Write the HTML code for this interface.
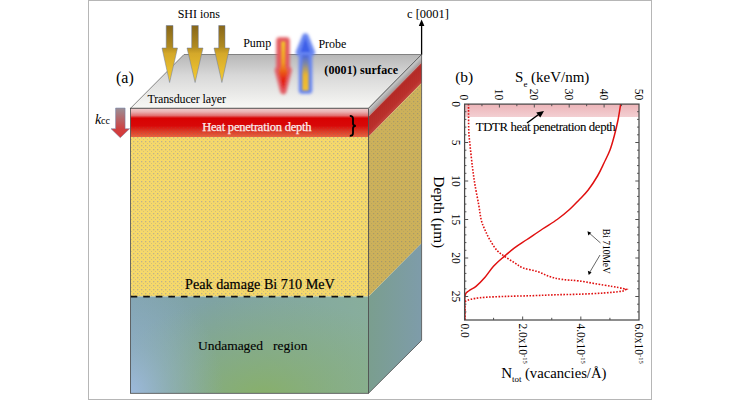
<!DOCTYPE html>
<html><head><meta charset="utf-8">
<style>
html,body{margin:0;padding:0;background:#fff;}
svg{display:block;}
text{font-family:"Liberation Serif",serif;}
.hv{stroke:#000;stroke-width:0.2px;}
.nos text, text.nos{stroke:none;}
</style></head>
<body>
<svg width="740" height="400" viewBox="0 0 740 400">
<defs>
  <linearGradient id="gTop" x1="0" y1="54" x2="0" y2="108" gradientUnits="userSpaceOnUse">
    <stop offset="0" stop-color="#b6b6b6"/>
    <stop offset="0.4" stop-color="#d8d8d8"/>
    <stop offset="1" stop-color="#f8f8f5"/>
  </linearGradient>
  <linearGradient id="gRed" x1="0" y1="108.5" x2="0" y2="137" gradientUnits="userSpaceOnUse">
    <stop offset="0" stop-color="#f0cccc"/>
    <stop offset="0.12" stop-color="#eab0b0"/>
    <stop offset="0.25" stop-color="#e27070"/>
    <stop offset="0.31" stop-color="#dc2020"/>
    <stop offset="0.35" stop-color="#d80202"/>
    <stop offset="0.6" stop-color="#d80808"/>
    <stop offset="0.8" stop-color="#dc3a26"/>
    <stop offset="1" stop-color="#e86440"/>
  </linearGradient>
  <pattern id="pDots" x="0" y="0" width="4" height="4" patternUnits="userSpaceOnUse">
    <rect width="4" height="4" fill="#f6d96a"/>
    <rect x="1" y="1" width="1.3" height="1.3" fill="#bfb38a"/>
    <rect x="3" y="3" width="1.2" height="1.2" fill="#d2c07a"/>
  </pattern>
  <pattern id="pDotsRed" x="0" y="0" width="4" height="4" patternUnits="userSpaceOnUse">
    <rect x="1" y="1" width="1.3" height="1.3" fill="#806060"/>
    <rect x="3" y="3" width="1.2" height="1.2" fill="#906060"/>
  </pattern>
  <pattern id="pDotsSide" x="0" y="0" width="4" height="4" patternUnits="userSpaceOnUse">
    <rect width="4" height="4" fill="#cdb15a"/>
    <rect x="1" y="1" width="1.2" height="1.2" fill="#a89a68"/>
    <rect x="3" y="3" width="1.2" height="1.2" fill="#b8a660"/>
  </pattern>
  <linearGradient id="gUnd" x1="130" y1="0" x2="368" y2="0" gradientUnits="userSpaceOnUse">
    <stop offset="0" stop-color="#82a4b2"/>
    <stop offset="0.35" stop-color="#7fa3a3"/>
    <stop offset="1" stop-color="#88ae9c"/>
  </linearGradient>
  <radialGradient id="gUndGreen" cx="262" cy="398" r="165" gradientUnits="userSpaceOnUse" gradientTransform="translate(262 398) scale(1 0.62) translate(-262 -398)">
    <stop offset="0" stop-color="#88b066" stop-opacity="0.95"/>
    <stop offset="0.5" stop-color="#88b070" stop-opacity="0.5"/>
    <stop offset="1" stop-color="#88b074" stop-opacity="0"/>
  </radialGradient>
  <radialGradient id="gUndBlue" cx="128" cy="396" r="120" gradientUnits="userSpaceOnUse" gradientTransform="translate(128 396) scale(0.8 1) translate(-128 -396)">
    <stop offset="0" stop-color="#a0bce2" stop-opacity="0.95"/>
    <stop offset="0.45" stop-color="#96b4d0" stop-opacity="0.5"/>
    <stop offset="1" stop-color="#90b0c0" stop-opacity="0"/>
  </radialGradient>
  <linearGradient id="gSideBlue" x1="368" y1="0" x2="422" y2="0" gradientUnits="userSpaceOnUse">
    <stop offset="0" stop-color="#7a9e8e"/>
    <stop offset="1" stop-color="#7e9caa"/>
  </linearGradient>
  <linearGradient id="gSideGray" x1="395" y1="81.1" x2="399.15" y2="85.25" gradientUnits="userSpaceOnUse">
    <stop offset="0" stop-color="#cfcfcf"/>
    <stop offset="0.55" stop-color="#b2b2b2"/>
    <stop offset="1" stop-color="#a89494"/>
  </linearGradient>
  <linearGradient id="gSideRed" x1="395" y1="89.4" x2="405.1" y2="99.5" gradientUnits="userSpaceOnUse">
    <stop offset="0" stop-color="#b43a34"/>
    <stop offset="0.15" stop-color="#b42a26"/>
    <stop offset="0.75" stop-color="#ba302c"/>
    <stop offset="1" stop-color="#c2443e"/>
  </linearGradient>
  <linearGradient id="gArrowGold" x1="0" y1="25" x2="0" y2="82" gradientUnits="userSpaceOnUse">
    <stop offset="0" stop-color="#86661a"/>
    <stop offset="0.38" stop-color="#b08a20"/>
    <stop offset="0.5" stop-color="#d4a82a"/>
    <stop offset="1" stop-color="#f6cc30"/>
  </linearGradient>
  <linearGradient id="gKcc" x1="0" y1="108" x2="0" y2="138" gradientUnits="userSpaceOnUse">
    <stop offset="0" stop-color="#9a9098"/>
    <stop offset="0.7" stop-color="#d04040"/>
    <stop offset="1" stop-color="#d83838"/>
  </linearGradient>
  <linearGradient id="gPump" x1="0" y1="41" x2="0" y2="90" gradientUnits="userSpaceOnUse">
    <stop offset="0" stop-color="#f2c030"/>
    <stop offset="0.45" stop-color="#f09a20"/>
    <stop offset="0.8" stop-color="#e42010"/>
    <stop offset="1" stop-color="#e01010"/>
  </linearGradient>
  <linearGradient id="gProbe" x1="0" y1="55" x2="0" y2="91" gradientUnits="userSpaceOnUse">
    <stop offset="0" stop-color="#4a68e0"/>
    <stop offset="0.25" stop-color="#8088a0"/>
    <stop offset="0.55" stop-color="#e8b430"/>
    <stop offset="1" stop-color="#f2c030"/>
  </linearGradient>
  <filter id="blur1" x="-50%" y="-50%" width="200%" height="200%"><feGaussianBlur stdDeviation="1.5"/></filter>
  <filter id="blur2" x="-50%" y="-50%" width="200%" height="200%"><feGaussianBlur stdDeviation="1"/></filter>
  <linearGradient id="gPink" x1="0" y1="104" x2="0" y2="117" gradientUnits="userSpaceOnUse">
    <stop offset="0" stop-color="#ecb4b8"/>
    <stop offset="1" stop-color="#f3cfd2"/>
  </linearGradient>
  <clipPath id="clipPlot"><rect x="464.5" y="104" width="174.5" height="216"/></clipPath>
</defs>

<!-- figure border -->
<rect x="88.5" y="0.5" width="563" height="399" fill="none" stroke="#b6b6b6" stroke-width="1"/>

<!-- ===== BOX (a) ===== -->
<!-- top face -->
<polygon points="130.5,108.3 368.5,108.3 421.6,54.5 184,54.5" fill="url(#gTop)" stroke="#6a6a6a" stroke-width="0.8"/>
<!-- front face layers -->
<rect x="130.5" y="108.3" width="238" height="28.7" fill="url(#gRed)"/>
<rect x="130.5" y="127" width="238" height="4" fill="url(#pDotsRed)" opacity="0.15"/>
<rect x="130.5" y="131" width="238" height="6" fill="url(#pDotsRed)" opacity="0.28"/>
<rect x="130.5" y="137" width="238" height="159.5" fill="url(#pDots)"/>
<rect x="130.5" y="296.5" width="238" height="96.8" fill="url(#gUnd)"/>
<rect x="130.5" y="296.5" width="238" height="96.5" fill="url(#gUndGreen)"/>
<rect x="130.5" y="296.5" width="238" height="96.5" fill="url(#gUndBlue)"/>
<line x1="130.7" y1="296.6" x2="368.5" y2="296.6" stroke="#111" stroke-width="1.7" stroke-dasharray="6.6 5.95"/>
<rect x="130.5" y="108.3" width="238" height="285" fill="none" stroke="#4a4a4a" stroke-width="0.8"/>
<!-- side face -->
<polygon points="368.5,108.3 421.6,54.5 421.6,62.8 368.5,116.6" fill="url(#gSideGray)"/>
<polygon points="368.5,116.6 421.6,62.8 421.6,83 368.5,136.8" fill="url(#gSideRed)"/>
<polygon points="368.5,296.5 421.6,243 421.6,340.4 368.5,393.3" fill="url(#gSideBlue)"/>
<polygon points="368.5,136.8 421.6,83 421.6,243 368.5,296.5" fill="url(#pDotsSide)"/>
<polygon points="368.5,108.3 421.6,54.5 421.6,340.4 368.5,393.3" fill="none" stroke="#4e4e4e" stroke-width="0.8"/>

<!-- c[0001] arrow -->
<line x1="421.6" y1="54.5" x2="421.6" y2="24" stroke="#000" stroke-width="1.3"/>
<polygon points="421.6,19.5 418.8,26 424.4,26" fill="#000"/>
<text x="407" y="17.6" font-size="12.5">c [0001]</text>

<!-- SHI arrows -->
<g fill="url(#gArrowGold)" stroke="#6a7aa0" stroke-width="0.5">
  <polygon points="166.2,25.5 173,25.5 173,48 177.5,48 169.6,82.5 162,48 166.2,48"/>
  <polygon points="191.7,25.5 198.3,25.5 198.3,48 203,48 195.1,82.5 187,48 191.7,48"/>
  <polygon points="218.7,25.5 225,25.5 225,48 229.5,48 221.9,82.5 214,48 218.7,48"/>
</g>
<text x="177.7" y="17.8" font-size="12">SHI ions</text>

<!-- pump arrow -->
<g filter="url(#blur1)">
  <path d="M279.5,40.5 L286.5,40.5 L286.5,69 L288.5,70 L283.3,91 L278,70 L279.5,69 Z" fill="#e25a60" stroke="#e25a60" stroke-width="6.5" stroke-linejoin="round"/>
</g>
<g filter="url(#blur2)">
  <path d="M281.2,41.5 L285.3,41.5 L285.3,66 L287.5,72 L283.3,89 L279,72 L281.2,66 Z" fill="url(#gPump)"/>
</g>
<!-- probe arrow -->
<g filter="url(#blur1)">
  <path d="M305.4,36.5 L311.8,52.5 L309,52.5 L309,90.5 L302,90.5 L302,52.5 L299,52.5 Z" fill="#6684f0" stroke="#6684f0" stroke-width="6.5" stroke-linejoin="round"/>
</g>
<g filter="url(#blur2)">
  <path d="M305.4,38 L310,52 L300.8,52 Z" fill="#3e5ee8"/>
  <path d="M302.3,55 L308.6,55 L308.6,90.5 L302.3,90.5 Z" fill="url(#gProbe)"/>
</g>
<text x="243.2" y="46.5" font-size="12">Pump</text>
<text x="318.4" y="48.1" font-size="12">Probe</text>

<text x="116" y="82.8" font-size="16">(a)</text>
<text x="147.4" y="102.7" font-size="12" textLength="78.6">Transducer layer</text>
<text x="324.3" y="74.3" font-size="12" font-weight="bold" textLength="73.7">(0001) surface</text>

<!-- kcc -->
<polygon points="115.6,108 125.1,108 125.1,128.7 129.6,128.7 120.3,137.7 111,128.7 115.6,128.7" fill="url(#gKcc)" stroke="#7080a8" stroke-width="0.5"/>
<text x="95" y="124" font-size="14" font-style="italic">k</text>
<text x="101" y="124" font-size="10">cc</text>

<text x="202.2" y="131" font-size="12.5" fill="#fbeeee" style="stroke:#fbeeee;stroke-width:0.25px" textLength="109.4">Heat penetration depth</text>
<path d="M349.8,115.9 Q353,115.9 353,118.5 L353,123.6 Q353,125.6 355.8,125.8 Q353,126 353,128.2 L353,133.3 Q353,135.9 349.8,135.9" fill="none" stroke="#000" stroke-width="1.8"/>

<text class="hv" x="185.1" y="288.6" font-size="14.2">Peak damage Bi 710 MeV</text>
<text class="hv" style="stroke-width:0.12px" x="197.9" y="350.2" font-size="13.5">Undamaged</text>
<text class="hv" style="stroke-width:0.12px" x="273" y="350.2" font-size="13.5">region</text>

<!-- ===== CHART (b) ===== -->
<rect x="464.5" y="104" width="174.5" height="13" fill="url(#gPink)"/>
<g clip-path="url(#clipPlot)">
<path fill="none" stroke="#e01010" stroke-width="1.5" stroke-linejoin="round" d="M620.70,104.00 C620.25,106.67 619.03,114.83 618.00,120.00 C616.97,125.17 615.83,130.00 614.50,135.00 C613.17,140.00 611.75,145.33 610.00,150.00 C608.25,154.67 606.08,158.67 604.00,163.00 C601.92,167.33 600.13,171.50 597.50,176.00 C594.87,180.50 591.28,186.00 588.20,190.00 C585.12,194.00 582.12,196.75 579.00,200.00 C575.88,203.25 573.08,206.29 569.50,209.50 C565.92,212.71 562.00,216.00 557.50,219.25 C553.00,222.50 547.58,225.62 542.50,229.00 C537.42,232.38 531.67,236.35 527.00,239.50 C522.33,242.65 518.33,245.05 514.50,247.90 C510.67,250.75 507.50,253.53 504.00,256.60 C500.50,259.67 496.70,262.80 493.50,266.30 C490.30,269.80 487.72,274.25 484.80,277.60 C481.88,280.95 478.63,284.20 476.00,286.40 C473.37,288.60 470.83,289.20 469.00,290.80 C467.17,292.40 465.70,291.13 465.00,296.00 C464.30,300.87 464.83,316.00 464.80,320.00"/>
<path fill="none" stroke="#e01010" stroke-width="1.6" stroke-dasharray="1.6 1.5" d="M468.50,104.00 C468.54,108.33 468.50,123.17 468.75,130.00 C469.00,136.83 469.38,138.75 470.00,145.00 C470.62,151.25 471.67,160.83 472.50,167.50 C473.33,174.17 473.96,178.75 475.00,185.00 C476.04,191.25 477.71,199.17 478.75,205.00 C479.79,210.83 480.21,215.83 481.25,220.00 C482.29,224.17 483.54,226.67 485.00,230.00 C486.46,233.33 488.00,236.58 490.00,240.00 C492.00,243.42 494.50,247.73 497.00,250.50 C499.50,253.27 502.08,254.56 505.00,256.60 C507.92,258.64 511.45,260.85 514.50,262.75 C517.55,264.65 519.50,266.54 523.30,268.00 C527.10,269.46 532.92,270.08 537.30,271.50 C541.68,272.92 545.48,275.18 549.60,276.50 C553.72,277.82 557.05,278.65 562.00,279.40 C566.95,280.15 572.35,280.05 579.30,281.00 C586.25,281.95 597.20,284.02 603.70,285.10 C610.20,286.18 614.55,286.80 618.30,287.50 C622.05,288.20 624.88,289.00 626.20,289.30 L626.20,289.30 C625.48,289.62 625.65,290.58 621.90,291.20 C618.15,291.82 610.80,292.50 603.70,293.00 C596.60,293.50 587.42,293.90 579.30,294.20 C571.18,294.50 562.88,294.55 555.00,294.80 C547.12,295.05 540.20,295.43 532.00,295.70 C523.80,295.97 514.55,296.05 505.80,296.40 C497.05,296.75 486.22,296.99 479.50,297.80 C472.78,298.61 467.92,299.55 465.50,301.25 C463.08,302.95 465.08,304.88 465.00,308.00 C464.92,311.12 465.00,318.00 465.00,320.00"/>
</g>
<!-- frame -->
<rect x="464.6" y="104.1" width="174.4" height="215.9" fill="none" stroke="#4a4a4a" stroke-width="1.25"/>
<g stroke="#505050" stroke-width="1"><line x1="481.95" y1="104.00" x2="481.95" y2="106.20"/><line x1="499.40" y1="104.00" x2="499.40" y2="107.50"/><line x1="516.85" y1="104.00" x2="516.85" y2="106.20"/><line x1="534.30" y1="104.00" x2="534.30" y2="107.50"/><line x1="551.75" y1="104.00" x2="551.75" y2="106.20"/><line x1="569.20" y1="104.00" x2="569.20" y2="107.50"/><line x1="586.65" y1="104.00" x2="586.65" y2="106.20"/><line x1="604.10" y1="104.00" x2="604.10" y2="107.50"/><line x1="621.55" y1="104.00" x2="621.55" y2="106.20"/><line x1="493.58" y1="320.00" x2="493.58" y2="317.80"/><line x1="522.67" y1="320.00" x2="522.67" y2="316.50"/><line x1="551.75" y1="320.00" x2="551.75" y2="317.80"/><line x1="580.83" y1="320.00" x2="580.83" y2="316.50"/><line x1="609.92" y1="320.00" x2="609.92" y2="317.80"/><line x1="464.50" y1="111.70" x2="466.40" y2="111.70"/><line x1="639.00" y1="111.70" x2="637.10" y2="111.70"/><line x1="464.50" y1="119.40" x2="466.40" y2="119.40"/><line x1="639.00" y1="119.40" x2="637.10" y2="119.40"/><line x1="464.50" y1="127.10" x2="466.40" y2="127.10"/><line x1="639.00" y1="127.10" x2="637.10" y2="127.10"/><line x1="464.50" y1="134.80" x2="466.40" y2="134.80"/><line x1="639.00" y1="134.80" x2="637.10" y2="134.80"/><line x1="464.50" y1="142.50" x2="468.20" y2="142.50"/><line x1="639.00" y1="142.50" x2="635.30" y2="142.50"/><line x1="464.50" y1="150.20" x2="466.40" y2="150.20"/><line x1="639.00" y1="150.20" x2="637.10" y2="150.20"/><line x1="464.50" y1="157.90" x2="466.40" y2="157.90"/><line x1="639.00" y1="157.90" x2="637.10" y2="157.90"/><line x1="464.50" y1="165.60" x2="466.40" y2="165.60"/><line x1="639.00" y1="165.60" x2="637.10" y2="165.60"/><line x1="464.50" y1="173.30" x2="466.40" y2="173.30"/><line x1="639.00" y1="173.30" x2="637.10" y2="173.30"/><line x1="464.50" y1="181.00" x2="468.20" y2="181.00"/><line x1="639.00" y1="181.00" x2="635.30" y2="181.00"/><line x1="464.50" y1="188.70" x2="466.40" y2="188.70"/><line x1="639.00" y1="188.70" x2="637.10" y2="188.70"/><line x1="464.50" y1="196.40" x2="466.40" y2="196.40"/><line x1="639.00" y1="196.40" x2="637.10" y2="196.40"/><line x1="464.50" y1="204.10" x2="466.40" y2="204.10"/><line x1="639.00" y1="204.10" x2="637.10" y2="204.10"/><line x1="464.50" y1="211.80" x2="466.40" y2="211.80"/><line x1="639.00" y1="211.80" x2="637.10" y2="211.80"/><line x1="464.50" y1="219.50" x2="468.20" y2="219.50"/><line x1="639.00" y1="219.50" x2="635.30" y2="219.50"/><line x1="464.50" y1="227.20" x2="466.40" y2="227.20"/><line x1="639.00" y1="227.20" x2="637.10" y2="227.20"/><line x1="464.50" y1="234.90" x2="466.40" y2="234.90"/><line x1="639.00" y1="234.90" x2="637.10" y2="234.90"/><line x1="464.50" y1="242.60" x2="466.40" y2="242.60"/><line x1="639.00" y1="242.60" x2="637.10" y2="242.60"/><line x1="464.50" y1="250.30" x2="466.40" y2="250.30"/><line x1="639.00" y1="250.30" x2="637.10" y2="250.30"/><line x1="464.50" y1="258.00" x2="468.20" y2="258.00"/><line x1="639.00" y1="258.00" x2="635.30" y2="258.00"/><line x1="464.50" y1="265.70" x2="466.40" y2="265.70"/><line x1="639.00" y1="265.70" x2="637.10" y2="265.70"/><line x1="464.50" y1="273.40" x2="466.40" y2="273.40"/><line x1="639.00" y1="273.40" x2="637.10" y2="273.40"/><line x1="464.50" y1="281.10" x2="466.40" y2="281.10"/><line x1="639.00" y1="281.10" x2="637.10" y2="281.10"/><line x1="464.50" y1="288.80" x2="466.40" y2="288.80"/><line x1="639.00" y1="288.80" x2="637.10" y2="288.80"/><line x1="464.50" y1="296.50" x2="468.20" y2="296.50"/><line x1="639.00" y1="296.50" x2="635.30" y2="296.50"/><line x1="464.50" y1="304.20" x2="466.40" y2="304.20"/><line x1="639.00" y1="304.20" x2="637.10" y2="304.20"/><line x1="464.50" y1="311.90" x2="466.40" y2="311.90"/><line x1="639.00" y1="311.90" x2="637.10" y2="311.90"/></g>

<!-- TDTR text and arrow -->
<text class="hv" x="475.8" y="131.1" font-size="12.8" style="stroke-width:0.08px" textLength="139.9">TDTR heat penetration depth</text>
<line x1="527" y1="123" x2="540" y2="113.5" stroke="#000" stroke-width="1.5"/>
<polygon points="544,111 536.2,112.6 540.3,117.4" fill="#000"/>

<!-- Bi 710MeV annotation -->
<text class="nos" transform="translate(603,228.8) rotate(90)" font-size="9.5">Bi 710MeV</text>
<line x1="600.5" y1="243" x2="589.5" y2="233.3" stroke="#000" stroke-width="0.6"/>
<polygon points="587.5,231.2 588.3,235.5 591.3,232.8" fill="#000"/>
<line x1="600" y1="255" x2="589.6" y2="272.5" stroke="#000" stroke-width="0.6"/>
<polygon points="588.7,275 587.8,270.8 591.6,272.5" fill="#000"/>

<!-- axis titles -->
<text x="455.2" y="82" font-size="15.5">(b)</text>
<text x="515.1" y="82" font-size="15">S</text>
<text x="523.6" y="86.5" font-size="9">e</text>
<text x="531" y="82" font-size="15">(keV/nm)</text>
<text x="501.2" y="377.6" font-size="15">N</text>
<text x="512" y="382" font-size="9">tot</text>
<text x="524.9" y="377.6" font-size="14.7">(vacancies/Å)</text>
<text transform="translate(433.6,176.3) rotate(90)" font-size="15.4">Depth (μm)</text>

<g class="nos" font-size="11.5"><text transform="translate(460.40,100.2) rotate(90)" text-anchor="end">0</text><text transform="translate(495.30,100.2) rotate(90)" text-anchor="end">10</text><text transform="translate(530.21,100.2) rotate(90)" text-anchor="end">20</text><text transform="translate(565.11,100.2) rotate(90)" text-anchor="end">30</text><text transform="translate(600.01,100.2) rotate(90)" text-anchor="end">40</text><text transform="translate(634.91,100.2) rotate(90)" text-anchor="end">50</text><text transform="translate(452.30,104.00) rotate(90)" text-anchor="middle">0</text><text transform="translate(452.30,142.50) rotate(90)" text-anchor="middle">5</text><text transform="translate(452.30,181.00) rotate(90)" text-anchor="middle">10</text><text transform="translate(452.30,219.50) rotate(90)" text-anchor="middle">15</text><text transform="translate(452.30,258.00) rotate(90)" text-anchor="middle">20</text><text transform="translate(452.30,296.50) rotate(90)" text-anchor="middle">25</text><text transform="translate(460.70,323.4) rotate(90)">0.0</text><text transform="translate(518.87,323.4) rotate(90)">2.0x10<tspan font-size="6.5" dy="-4.2">-15</tspan></text><text transform="translate(577.04,323.4) rotate(90)">4.0x10<tspan font-size="6.5" dy="-4.2">-15</tspan></text><text transform="translate(635.21,323.4) rotate(90)">6.0x10<tspan font-size="6.5" dy="-4.2">-15</tspan></text></g>
</svg>
</body></html>
